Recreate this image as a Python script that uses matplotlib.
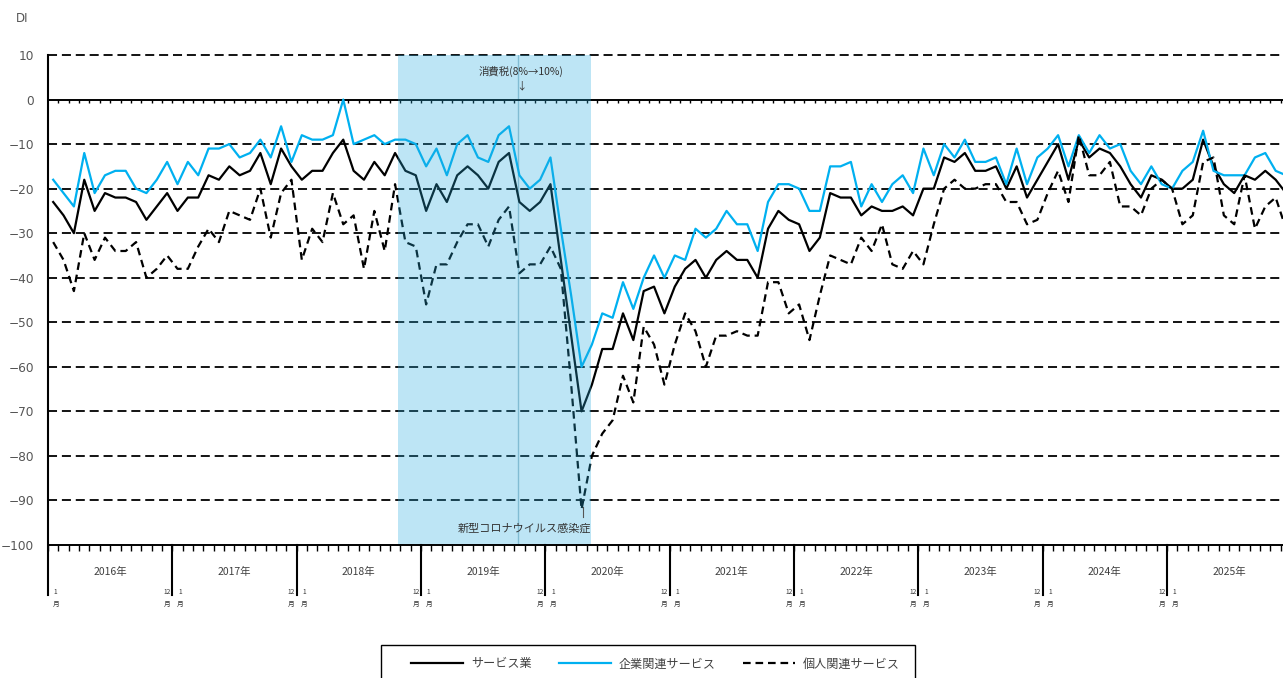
import numpy as np
import matplotlib
matplotlib.use('Agg')
import matplotlib.pyplot as plt
from matplotlib.transforms import blended_transform_factory
from matplotlib.lines import Line2D
from matplotlib.patches import Rectangle

plt.rcParams['lines.scale_dashes'] = False
plt.rcParams['font.family'] = ['DejaVu Sans', 'Noto Sans CJK JP']
CJK = ['Noto Sans CJK JP', 'DejaVu Sans']

years = [2016, 2017, 2018, 2019, 2020, 2021, 2022, 2023, 2024, 2025]
series_names = ['サービス業', '企業関連サービス', '個人関連サービス']

service = [-23, -26, -30, -18, -25, -21, -22, -22, -23, -27, -24, -21,
           -25, -22, -22, -17, -18, -15, -17, -16, -12, -19, -11, -15,
           -18, -16, -16, -12, -9, -16, -18, -14, -17, -12, -16, -17,
           -25, -19, -23, -17, -15, -17, -20, -14, -12, -23, -25, -23,
           -19, -36, -53, -70, -64, -56, -56, -48, -54, -43, -42, -48,
           -42, -38, -36, -40, -36, -34, -36, -36, -40, -29, -25, -27,
           -28, -34, -31, -21, -22, -22, -26, -24, -25, -25, -24, -26,
           -20, -20, -13, -14, -12, -16, -16, -15, -20, -15, -22, -18,
           -14, -10, -18, -9, -13, -11, -12, -15, -19, -22, -17, -18,
           -20, -20, -18, -9, -15, -19, -21, -17, -18, -16, -18, -21]

corporate = [-18, -21, -24, -12, -21, -17, -16, -16, -20, -21, -18, -14,
             -19, -14, -17, -11, -11, -10, -13, -12, -9, -13, -6, -14,
             -8, -9, -9, -8, 0, -10, -9, -8, -10, -9, -9, -10,
             -15, -11, -17, -10, -8, -13, -14, -8, -6, -17, -20, -18,
             -13, -29, -44, -60, -55, -48, -49, -41, -47, -40, -35, -40,
             -35, -36, -29, -31, -29, -25, -28, -28, -34, -23, -19, -19,
             -20, -25, -25, -15, -15, -14, -24, -19, -23, -19, -17, -21,
             -11, -17, -10, -13, -9, -14, -14, -13, -19, -11, -19, -13,
             -11, -8, -15, -8, -12, -8, -11, -10, -16, -19, -15, -19,
             -20, -16, -14, -7, -16, -17, -17, -17, -13, -12, -16, -17]

personal = [-32, -36, -43, -30, -36, -31, -34, -34, -32, -40, -38, -35,
            -38, -38, -33, -29, -32, -25, -26, -27, -20, -31, -21, -18,
            -36, -29, -32, -21, -28, -26, -38, -25, -34, -19, -32, -33,
            -46, -37, -37, -32, -28, -28, -33, -27, -24, -39, -37, -37,
            -33, -38, -64, -92, -80, -75, -72, -62, -68, -51, -55, -64,
            -55, -48, -52, -60, -53, -53, -52, -53, -53, -41, -41, -48,
            -46, -54, -44, -35, -36, -37, -31, -34, -28, -37, -38, -34,
            -37, -28, -20, -18, -20, -20, -19, -19, -23, -23, -28, -27,
            -21, -16, -23, -8, -17, -17, -14, -24, -24, -26, -20, -18,
            -20, -28, -26, -14, -13, -26, -28, -17, -29, -24, -22, -29]

yticks = [10, 0, -10, -20, -30, -40, -50, -60, -70, -80, -90, -100]

W, H = 1283, 678
fig = plt.figure(figsize=(W / 100, H / 100), dpi=100)
left_px, top_px, bot_px = 48, 55, 545
month_px = 10.36
ax = fig.add_axes([left_px / W, 1 - bot_px / H, (W - left_px) / W, (bot_px - top_px) / H])
ax.set_xlim(0, (W - left_px) / month_px)
ax.set_ylim(-100, 10)

x = np.arange(len(service)) + 0.5

# recession shading (overlay) and consumption tax line
ax.axvline(45.4, color='#a9c4cf', lw=1.0, zorder=1)
ax.axvspan(33.78, 52.41, color='#26ACDE', alpha=0.3, lw=0, zorder=6)

# grid
for v in yticks[2:-1]:
    ax.axhline(v, color='black', lw=1.3, ls=(0, (6.5, 3.5)), zorder=2)
ax.axhline(10, color='black', lw=1.3, ls=(0, (6.5, 3.5)), zorder=2, clip_on=False)
ax.axhline(0, color='black', lw=1.4, zorder=2)
ax.vlines(np.arange(1, 120), -0.75, 0, color='black', lw=1.0, zorder=2)

l1, = ax.plot(x, service, color='black', lw=1.6, zorder=4)
l2, = ax.plot(x, corporate, color='#00B0F0', lw=1.6, zorder=4)
l3, = ax.plot(x, personal, color='black', lw=1.6, ls=(0, (5.5, 3.5)), zorder=4)

for s in ['top', 'right', 'left']:
    ax.spines[s].set_visible(False)
ax.spines['bottom'].set_linewidth(1.4)
ax.spines['bottom'].set_zorder(7)

ax.set_xticks(np.arange(0, 120))
ax.tick_params(axis='x', length=4, width=1.0, direction='out', labelbottom=False, color='black')
ax.set_yticks(yticks)
ax.tick_params(axis='y', length=0, pad=10, labelsize=8.7, labelcolor='#555555')

trans = blended_transform_factory(ax.transData, ax.transAxes)
ext = -0.102
ax.add_line(Line2D([0, 0], [1, ext], transform=trans, color='black', lw=1.5, clip_on=False, zorder=8))
for k in range(1, 10):
    ax.add_line(Line2D([12 * k, 12 * k], [0, ext], transform=trans, color='black', lw=1.5,
                       clip_on=False, zorder=8))

for k, yr in enumerate(years):
    ax.text(12 * k + 6, -0.055, f'{yr}年', transform=trans, ha='center', va='center',
            fontsize=7.5, color='#404040', family=CJK)
    for xm, lab in [(12 * k + 0.75, '1'), (12 * k + 11.5, '12')]:
        ax.text(xm, -0.096, lab, transform=trans, ha='center', va='center',
                fontsize=4.8, color='#333333', family=CJK, clip_on=False)
        ax.text(xm, -0.12, '月', transform=trans, ha='center', va='center',
                fontsize=4.8, color='#333333', family=CJK, clip_on=False)

# annotations
ax.text(45.66, 6.3, '消費税(8%→10%)', ha='center', va='center', fontsize=7.5,
        color='#333333', family=CJK, zorder=9)
ax.text(45.66, 3.0, '↓', ha='center', va='center', fontsize=7.5,
        color='#333333', family=CJK, zorder=9)
ax.plot([51.6, 51.6], [-93.8, -91.5], color='#555555', lw=0.8, zorder=9)
ax.text(52.4, -96.2, '新型コロナウイルス感染症', ha='right', va='center', fontsize=8,
        color='#333333', family=CJK, zorder=9)

fig.text(16 / W, 1 - 18 / H, 'DI', ha='left', va='center', fontsize=8.5, color='#555555')

# legend (frame drawn separately so that its bottom runs off the figure, as in the source)
leg = fig.legend([l1, l2, l3], series_names, loc='center left',
                 bbox_to_anchor=(411 / W, 1 - 664 / H), ncol=3, frameon=False,
                 handlelength=4.3, columnspacing=2.25, handletextpad=0.65, borderpad=0,
                 borderaxespad=0, prop={'family': CJK, 'size': 8.7})
for t in leg.get_texts():
    t.set_color('#404040')
fig.patches.append(Rectangle((381 / W, 1 - 690 / H), (915 - 381) / W, 45 / H,
                             transform=fig.transFigure, fill=False, edgecolor='black',
                             lw=1.0, zorder=10))

fig.savefig('out.png', dpi=100)
